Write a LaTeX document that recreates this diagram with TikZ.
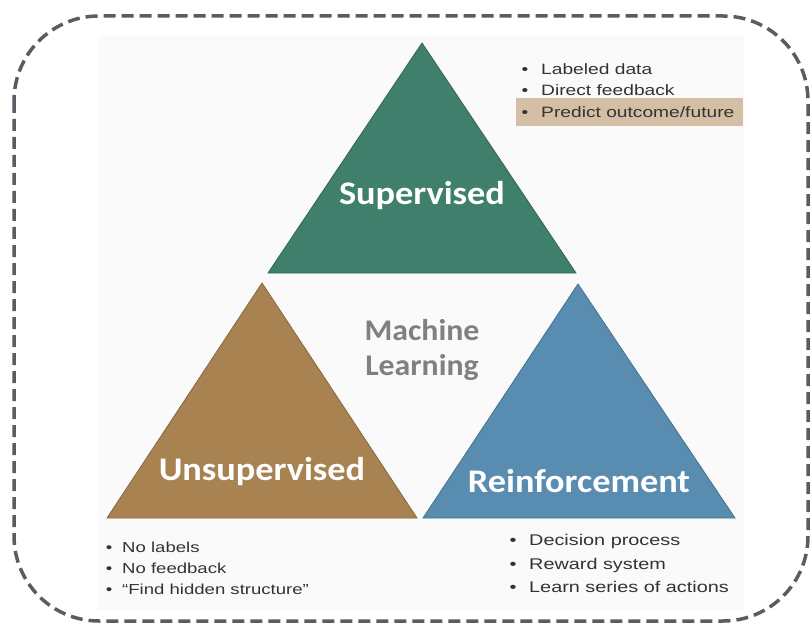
\documentclass[tikz,border=0pt]{standalone}
\usepackage{fontspec}
\setmainfont{Liberation Sans}
\newfontfamily\calibri[FakeStretch = 1.1]{Carlito}
\newfontfamily\mlfont[FakeStretch = 1.06]{Carlito}
\newfontfamily\listfont[FakeStretch = 1.28, Ligatures = TeX]{Liberation Sans}
\usepackage{xcolor}

\definecolor{supGreen}{HTML}{3F7F6C}
\definecolor{unsBrown}{HTML}{A88250}
\definecolor{reiBlue}{HTML}{588CB0}
\definecolor{hiTan}{HTML}{D4BFA4}
\definecolor{frameGray}{HTML}{585D64}
\definecolor{listGray}{HTML}{333333}

\begin{document}
\begin{tikzpicture}[x = 1pt, y = -1pt]
\tikzstyle{triLabel} = [text = white, font = \calibri\bfseries\fontsize{33}{36}\selectfont, inner sep = 0pt]
\tikzstyle{mlLabel} = [text = black!50, font = \mlfont\bfseries\fontsize{30}{34}\selectfont, inner sep = 0pt]
\tikzstyle{itemStyle} = [text = listGray, anchor = base west, inner sep = 0pt]
\tikzstyle{bulletStyle} = [text = listGray, anchor = base, inner sep = 0pt]
\useasboundingbox (0,0) rectangle (812,623);
% background panel and dashed frame
\fill[black!2] (98,36) rectangle (744,610);
\draw[frameGray, line width = 3.5pt, dash pattern = on 12pt off 6pt, rounded corners = 85pt] (14,16) rectangle (808,621);
% triangles
\fill[supGreen, draw = supGreen!80!black, line width = 0.8pt] (422,43) -- (576,273) -- (268,273) -- cycle;
\fill[unsBrown, draw = unsBrown!80!black, line width = 0.8pt] (262,283) -- (417,518) -- (107,518) -- cycle;
\fill[reiBlue, draw = reiBlue!80!black, line width = 0.8pt] (578,284) -- (735,518) -- (423,518) -- cycle;
\node[triLabel] (sup) at (422,196) {Supervised};
\node[triLabel] (uns) at (262,472) {Unsupervised};
\node[triLabel] (rei) at (579,481) {Reinforcement};
\node[mlLabel] (ml1) at (422,330) {Machine};
\node[mlLabel] (ml2) at (422,368) {Learning};
% supervised list
\fill[hiTan] (516,98) rectangle (743,126);
\begin{scope}[font = \listfont\fontsize{15}{18}\selectfont]
\node[bulletStyle] (sb1) at (525,75) {\textbullet};
\node[itemStyle] (s1) at (541,75) {Labeled data};
\node[bulletStyle] (sb2) at (525,96) {\textbullet};
\node[itemStyle] (s2) at (541,96) {Direct feedback};
\node[bulletStyle] (sb3) at (525,118) {\textbullet};
\node[itemStyle] (s3) at (541,118) {Predict outcome/future};
\end{scope}
% unsupervised list
\begin{scope}[font = \listfont\fontsize{14.5}{17}\selectfont]
\node[bulletStyle] (ub1) at (109,552) {\textbullet};
\node[itemStyle] (u1) at (122,552) {No labels};
\node[bulletStyle] (ub2) at (109,573) {\textbullet};
\node[itemStyle] (u2) at (122,573) {No feedback};
\node[bulletStyle] (ub3) at (109,594) {\textbullet};
\node[itemStyle] (u3) at (122,594) {“Find hidden structure”};
\end{scope}
% reinforcement list
\begin{scope}[font = \listfont\fontsize{15.5}{19}\selectfont]
\node[bulletStyle] (rb1) at (513,545) {\textbullet};
\node[itemStyle] (r1) at (529,545) {Decision process};
\node[bulletStyle] (rb2) at (513,569) {\textbullet};
\node[itemStyle] (r2) at (529,569) {Reward system};
\node[bulletStyle] (rb3) at (513,592) {\textbullet};
\node[itemStyle] (r3) at (529,592) {Learn series of actions};
\end{scope}
\end{tikzpicture}
\end{document}
